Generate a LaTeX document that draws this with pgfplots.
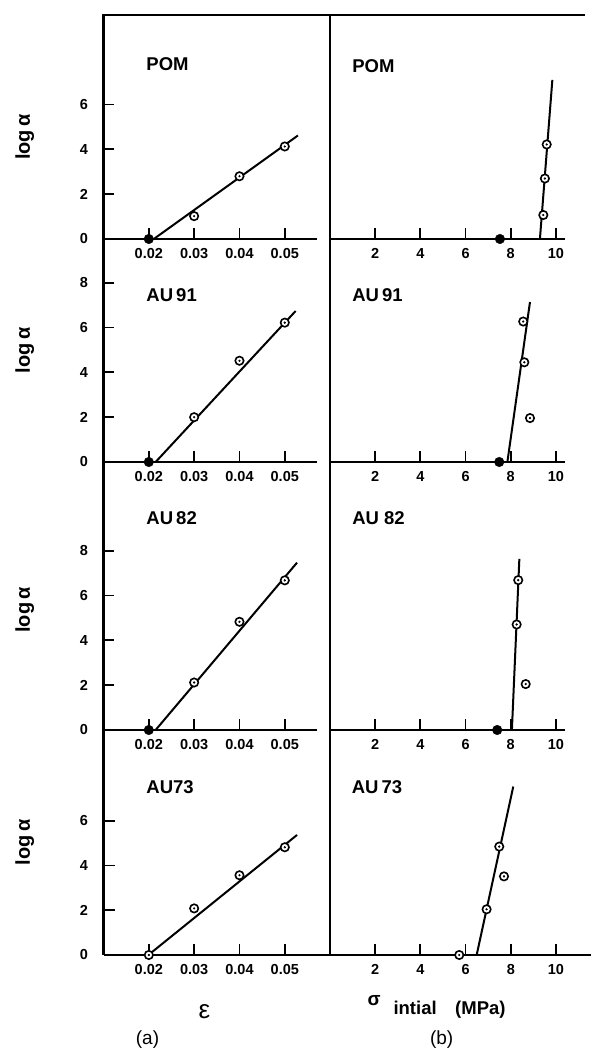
\documentclass[border=0pt]{standalone}
\usepackage{fontspec}
\setmainfont{Liberation Sans}
\usepackage{pgfplots}
\pgfplotsset{compat=1.18}

\newcommand{\tickfont}{\bfseries\fontsize{14.5}{14.5}\selectfont}
\newcommand{\panelfont}{\bfseries\fontsize{18.5}{18.5}\selectfont}

\pgfplotsset{
  panel/.style={
    scale only axis, anchor=south west, clip=false,
    axis lines*=left,
    axis line style={line width=2.2pt, black},
    every tick/.style={line width=1.8pt, black},
    tick align=inside, major tick length=11pt,
    ymin=0,
    tick label style={font=\tickfont},
    /pgf/number format/assume math mode=true,
    xticklabel style={yshift=-6pt},
    yticklabel style={xshift=-12pt},
    ylabel={log\,α},
    ylabel style={font=\bfseries\fontsize{20}{20}\selectfont, anchor=center},
  },
  leftpanel/.style={panel, xmin=0.01, xmax=0.057, width=213pt,
    xtick={0.02,0.03,0.04,0.05}, xticklabels={0.02,0.03,0.04,0.05},
    scaled x ticks=false},
  rightpanel/.style={panel, xmin=0, xmax=10.4, width=235pt,
    xtick={2,4,6,8,10}, ytick=\empty, ylabel={}},
  fitline/.style={line width=2pt, black, no markers},
  opt/.style={only marks, mark=*, mark size=4.2pt,
    mark options={line width=1.6pt, draw=black, fill=white}},
  optdot/.style={only marks, mark=*, mark size=0.9pt, mark options={black}},
  zerodot/.style={only marks, mark=*, mark size=4.8pt, mark options={black}},
}

\begin{document}
\begin{tikzpicture}
\useasboundingbox (0pt,0pt) rectangle (591pt,1051pt);

% ---------------- row 1: POM ----------------
\begin{axis}[leftpanel, at={(103.5pt,812pt)}, height=224pt, ymax=10,
  ytick={0,2,4,6}, ylabel style={at={(axis description cs:-0.37,0.455)}}]
  \addplot[fitline] coordinates {(0.0211,0) (0.0529,4.62)};
  \addplot[opt] coordinates {(0.03,1.02) (0.04,2.8) (0.05,4.13)};
  \addplot[optdot] coordinates {(0.03,1.02) (0.04,2.8) (0.05,4.13)};
  \addplot[zerodot] coordinates {(0.02,0)};
  \node[anchor=west, font=\panelfont] at (rel axis cs:0.185,0.78) {POM};
\end{axis}
\begin{axis}[rightpanel, at={(330pt,812pt)}, height=224pt, ymax=10]
  \addplot[fitline] coordinates {(9.29,0) (9.84,7.1)};
  \addplot[opt] coordinates {(9.44,1.07) (9.51,2.70) (9.59,4.22)};
  \addplot[optdot] coordinates {(9.44,1.07) (9.51,2.70) (9.59,4.22)};
  \addplot[zerodot] coordinates {(7.52,0)};
  \node[anchor=west, font=\panelfont] at (rel axis cs:0.08,0.77) {POM};
\end{axis}

% ---------------- row 2: AU91 ----------------
\begin{axis}[leftpanel, at={(103.5pt,589pt)}, height=223pt, ymax=9.955,
  ytick={0,2,4,6,8}, ylabel style={at={(axis description cs:-0.37,0.5)}}]
  \addplot[fitline] coordinates {(0.0215,0) (0.0524,6.74)};
  \addplot[opt] coordinates {(0.03,2.0) (0.04,4.52) (0.05,6.22)};
  \addplot[optdot] coordinates {(0.03,2.0) (0.04,4.52) (0.05,6.22)};
  \addplot[zerodot] coordinates {(0.02,0)};
  \node[anchor=west, font=\panelfont] at (rel axis cs:0.185,0.749) {AU\,91};
\end{axis}
\begin{axis}[rightpanel, at={(330pt,589pt)}, height=223pt, ymax=9.955]
  \addplot[fitline] coordinates {(7.85,0) (8.85,7.14)};
  \addplot[opt] coordinates {(8.85,1.96) (8.60,4.45) (8.55,6.27)};
  \addplot[optdot] coordinates {(8.85,1.96) (8.60,4.45) (8.55,6.27)};
  \addplot[zerodot] coordinates {(7.49,0)};
  \node[anchor=west, font=\panelfont] at (rel axis cs:0.08,0.749) {AU\,91};
\end{axis}

% ---------------- row 3: AU82 ----------------
\begin{axis}[leftpanel, at={(103.5pt,321pt)}, height=268pt, ymax=11.964,
  ytick={0,2,4,6,8}, ylabel style={at={(axis description cs:-0.37,0.448)}}]
  \addplot[fitline] coordinates {(0.0215,0) (0.0527,7.47)};
  \addplot[opt] coordinates {(0.03,2.12) (0.04,4.83) (0.05,6.68)};
  \addplot[optdot] coordinates {(0.03,2.12) (0.04,4.83) (0.05,6.68)};
  \addplot[zerodot] coordinates {(0.02,0)};
  \node[anchor=west, font=\panelfont] at (rel axis cs:0.185,0.79) {AU\,82};
\end{axis}
\begin{axis}[rightpanel, at={(330pt,321pt)}, height=268pt, ymax=11.964]
  \addplot[fitline] coordinates {(8.05,0) (8.38,7.64)};
  \addplot[opt] coordinates {(8.66,2.05) (8.26,4.71) (8.33,6.69)};
  \addplot[optdot] coordinates {(8.66,2.05) (8.26,4.71) (8.33,6.69)};
  \addplot[zerodot] coordinates {(7.40,0)};
  \node[anchor=west, font=\panelfont] at (rel axis cs:0.08,0.79) {AU 82};
\end{axis}

% ---------------- row 4: AU73 ----------------
\begin{axis}[leftpanel, at={(103.5pt,96pt)}, height=225pt, ymax=10.045,
  xmax=0.05997, width=226.5pt,
  ytick={0,2,4,6}, ylabel style={at={(axis description cs:-0.348,0.5)}}]
  \addplot[fitline] coordinates {(0.0199,0) (0.0527,5.36)};
  \addplot[opt] coordinates {(0.02,0) (0.03,2.08) (0.04,3.56) (0.05,4.81)};
  \addplot[optdot] coordinates {(0.02,0) (0.03,2.08) (0.04,3.56) (0.05,4.81)};
  \node[anchor=west, font=\panelfont] at (rel axis cs:0.174,0.747) {AU73};
\end{axis}
\begin{axis}[rightpanel, at={(330pt,96pt)}, height=225pt, ymax=10.045,
  xmax=11.55, width=261pt]
  \addplot[fitline] coordinates {(6.49,0) (8.11,7.52)};
  \addplot[opt] coordinates {(5.72,0) (6.93,2.04) (7.49,4.84) (7.70,3.51)};
  \addplot[optdot] coordinates {(5.72,0) (6.93,2.04) (7.49,4.84) (7.70,3.51)};
  \node[anchor=west, font=\panelfont] at (rel axis cs:0.07,0.747) {AU\,73};
\end{axis}

% top frame line
\draw[line width=2.2pt] (102.4pt,1036pt) -- (585pt,1036pt);

% axis titles and panel letters
\node[font=\fontsize{26}{26}\selectfont] at (204.5pt,39pt) {ε};
\node[font=\fontsize{19}{19}\selectfont] at (147.5pt,11pt) {(a)};
\node[anchor=west, font=\bfseries\fontsize{19}{19}\selectfont] at (364pt,50pt) {σ};
\node[anchor=west, font=\bfseries\fontsize{18.5}{18.5}\selectfont] at (390pt,41pt) {intial\quad(MPa)};
\node[font=\fontsize{19}{19}\selectfont] at (441.7pt,11pt) {(b)};
\end{tikzpicture}
\end{document}
